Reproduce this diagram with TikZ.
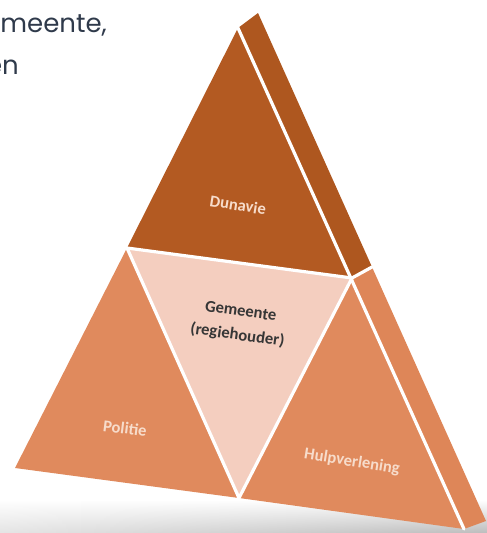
\documentclass[tikz,border=0pt]{standalone}
\usepackage{fontspec}
\newfontfamily\labelfont{Carlito}
\newfontfamily\topfont{Poppins}
\usetikzlibrary{fadings}
\definecolor{darkface}{HTML}{B35A22}
\definecolor{darkside}{HTML}{AE571F}
\definecolor{midface}{HTML}{E08A5D}
\definecolor{midside}{HTML}{DE8658}
\definecolor{lightface}{HTML}{F4CEBF}
\definecolor{lighttext}{HTML}{F7DCCB}
\definecolor{darktext}{HTML}{363636}
\definecolor{toptextcol}{HTML}{2F3A4B}
\begin{document}
\begin{tikzpicture}[x=1pt,y=-1pt,
  sep/.style={white,line width=3.2pt,line cap=round},
  lbl/.style={font=\labelfont\bfseries\fontsize{16.6}{24}\selectfont,text=lighttext,inner sep=0pt,align=center},
  toplbl/.style={font=\topfont\fontsize{26}{30}\selectfont,text=toptextcol,inner sep=0pt}]
\useasboundingbox (0,0) rectangle (487,533);
\fill[white] (0,0) rectangle (487,533);
% floor shadow
\shade[top color=white,bottom color=black!26] (0,500) rectangle (487,533);
\fill[white,path fading=east,opacity=0.6] (0,500) rectangle (487,533);
% corner points
\coordinate (A) at (238,28);
\coordinate (BL) at (15,468);
\coordinate (BR) at (464,529);
\coordinate (BM) at (239,498);
\coordinate (ML) at (127,248);
\coordinate (MR) at (352,278);
\coordinate (T1) at (258,13);
\coordinate (T2) at (372,267);
\coordinate (T3) at (486,521);
% side faces
\fill[darkside] (A) -- (T1) -- (T2) -- (MR) -- cycle;
\fill[midside] (MR) -- (T2) -- (T3) -- (BR) -- cycle;
% front faces
\fill[darkface] (A) -- (ML) -- (MR) -- cycle;
\fill[midface] (ML) -- (BL) -- (BM) -- cycle;
\fill[lightface] (ML) -- (MR) -- (BM) -- cycle;
\fill[midface] (MR) -- (BM) -- (BR) -- cycle;
% separating lines
\draw[sep] (ML) -- (MR);
\draw[sep] (ML) -- (BM);
\draw[sep] (MR) -- (BM);
\draw[sep] (A) -- (BR);
\draw[sep] (MR) -- (T2);
% labels
\node[lbl,rotate=-9] (dunavie) at (238,205) {Dunavie};
\node[lbl,rotate=-8,text=darktext] (gemeente) at (239,324) {Gemeente\\(regiehouder)};
\node[lbl,rotate=-7] (politie) at (125,428) {Politie};
\node[lbl,rotate=-9] (hulp) at (352,462) {Hulpverlening};
% top-left text
\node[toplbl,anchor=base east] (t1) at (107,32) {meente,};
\node[toplbl,anchor=base east] (t2) at (19,74) {en};
\end{tikzpicture}
\end{document}
